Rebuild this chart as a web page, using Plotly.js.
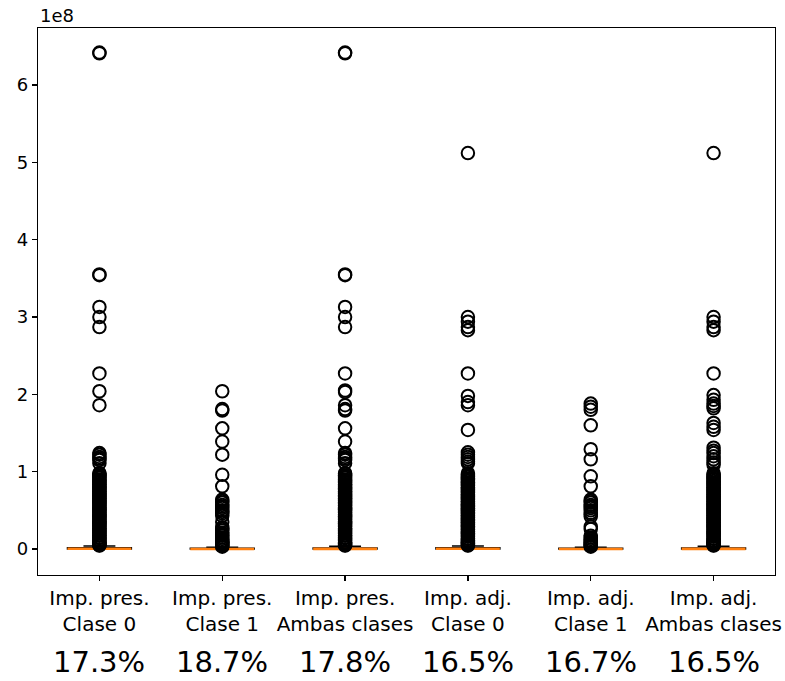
<!DOCTYPE html>
<html>
<head>
<meta charset="utf-8">
<script src="https://cdn.plot.ly/plotly-3.0.1.min.js"></script>
<style>
  html, body { margin: 0; padding: 0; background: #fff; }
  #chart { width: 785px; height: 681px; }
</style>
</head>
<body>
<div id="chart"></div>
<script>
// ---- Data (values in units of 1e8) ----
const categories = [
  "Imp. pres.<br>Clase 0",
  "Imp. pres.<br>Clase 1",
  "Imp. pres.<br>Ambas clases",
  "Imp. adj.<br>Clase 0",
  "Imp. adj.<br>Clase 1",
  "Imp. adj.<br>Ambas clases"
];
const percentages = ["17.3%", "18.7%", "17.8%", "16.5%", "16.7%", "16.5%"];

const q1Values     = [0, 0, 0, 0, 0, 0];
const medianValues = [0.003, 0.001, 0.002, 0.003, 0.001, 0.002];
const q3Values     = [0.015, 0.010, 0.013, 0.015, 0.010, 0.013];
const lowerFences  = [0, 0, 0, 0, 0, 0];
const upperFences  = [0.040, 0.022, 0.035, 0.040, 0.022, 0.035];

const outliersPresClase0 = [6.42, 6.41, 3.55, 3.54, 3.13, 3.00, 2.87, 2.27, 2.04, 1.86,
  1.24, 1.22, 1.19, 1.17, 1.15, 1.11, 0.98, 0.97, 0.95, 0.94, 0.92, 0.90, 0.89, 0.87,
  0.86, 0.84, 0.83, 0.81, 0.80, 0.78, 0.77, 0.75, 0.74, 0.72, 0.71, 0.69, 0.68, 0.66,
  0.65, 0.63, 0.62, 0.60, 0.59, 0.57, 0.56, 0.54, 0.53, 0.51, 0.50, 0.48, 0.47, 0.45,
  0.44, 0.42, 0.41, 0.39, 0.38, 0.36, 0.35, 0.33, 0.32, 0.30, 0.29, 0.27, 0.26, 0.24,
  0.23, 0.21, 0.20, 0.18, 0.17, 0.15, 0.14, 0.12, 0.11, 0.09, 0.08, 0.07, 0.06, 0.05, 0.045];
const outliersPresClase1 = [2.04, 1.81, 1.79, 1.56, 1.39, 1.22, 0.96, 0.81, 0.64, 0.62,
  0.60, 0.57, 0.55, 0.53, 0.50, 0.48, 0.46, 0.43, 0.35, 0.28, 0.26, 0.24, 0.21, 0.19,
  0.17, 0.15, 0.13, 0.11, 0.10, 0.09, 0.08, 0.07, 0.06, 0.05, 0.04, 0.03];
const outliersPresAmbas = [6.42, 6.41, 3.55, 3.54, 3.13, 3.00, 2.87, 2.27, 2.05, 2.03,
  1.86, 1.81, 1.79, 1.56, 1.39, 1.24, 1.22, 1.19, 1.17, 1.15, 1.11, 0.98, 0.97, 0.95,
  0.94, 0.92, 0.90, 0.89, 0.87, 0.86, 0.84, 0.83, 0.81, 0.80, 0.78, 0.77, 0.75, 0.74,
  0.72, 0.71, 0.69, 0.68, 0.66, 0.65, 0.63, 0.62, 0.60, 0.59, 0.57, 0.56, 0.54, 0.53,
  0.51, 0.50, 0.48, 0.47, 0.45, 0.44, 0.42, 0.41, 0.39, 0.38, 0.36, 0.35, 0.33, 0.32,
  0.30, 0.29, 0.27, 0.26, 0.24, 0.23, 0.21, 0.20, 0.18, 0.17, 0.15, 0.14, 0.12, 0.11,
  0.09, 0.08, 0.07, 0.06, 0.05, 0.045];
const outliersAdjClase0 = [5.12, 3.00, 2.94, 2.87, 2.83, 2.27, 1.98, 1.90, 1.86, 1.54,
  1.25, 1.22, 1.19, 1.16, 1.13, 1.11, 0.98, 0.96, 0.94, 0.93, 0.91, 0.90, 0.88, 0.86,
  0.85, 0.83, 0.82, 0.80, 0.79, 0.77, 0.76, 0.74, 0.73, 0.71, 0.70, 0.68, 0.67, 0.65,
  0.64, 0.62, 0.61, 0.59, 0.58, 0.56, 0.55, 0.53, 0.52, 0.50, 0.49, 0.47, 0.46, 0.44,
  0.43, 0.41, 0.40, 0.38, 0.37, 0.35, 0.34, 0.32, 0.31, 0.29, 0.28, 0.26, 0.25, 0.23,
  0.22, 0.20, 0.19, 0.17, 0.16, 0.14, 0.13, 0.11, 0.10, 0.09, 0.08, 0.07, 0.06, 0.05, 0.045];
const outliersAdjClase1 = [1.88, 1.84, 1.80, 1.60, 1.29, 1.16, 0.94, 0.81, 0.64, 0.62,
  0.60, 0.57, 0.55, 0.53, 0.50, 0.47, 0.45, 0.42, 0.29, 0.26, 0.17, 0.15, 0.13, 0.11,
  0.10, 0.08, 0.07, 0.06, 0.05, 0.04, 0.03];
const outliersAdjAmbas = [5.12, 3.00, 2.94, 2.87, 2.83, 2.27, 1.99, 1.93, 1.88, 1.85,
  1.82, 1.63, 1.58, 1.54, 1.31, 1.27, 1.24, 1.20, 1.16, 1.12, 1.09, 0.98, 0.96, 0.94,
  0.93, 0.91, 0.90, 0.88, 0.86, 0.85, 0.83, 0.82, 0.80, 0.79, 0.77, 0.76, 0.74, 0.73,
  0.71, 0.70, 0.68, 0.67, 0.65, 0.64, 0.62, 0.61, 0.59, 0.58, 0.56, 0.55, 0.53, 0.52,
  0.50, 0.49, 0.47, 0.46, 0.44, 0.43, 0.41, 0.40, 0.38, 0.37, 0.35, 0.34, 0.32, 0.31,
  0.29, 0.28, 0.26, 0.25, 0.23, 0.22, 0.20, 0.19, 0.17, 0.16, 0.14, 0.13, 0.11, 0.10,
  0.09, 0.08, 0.07, 0.06, 0.05, 0.045];

const yTickValues = [0, 1, 2, 3, 4, 5, 6];
const yTickLabels = ["0", "1", "2", "3", "4", "5", "6"];

// ---- Build traces ----
const outlierSets = [outliersPresClase0, outliersPresClase1, outliersPresAmbas,
                     outliersAdjClase0, outliersAdjClase1, outliersAdjAmbas];

const boxTrace = {
  type: "box",
  x: categories,
  q1: q1Values,
  median: medianValues,
  q3: q3Values,
  lowerfence: lowerFences,
  upperfence: upperFences,
  width: 0.52,
  line: { color: "#000", width: 1.5 },
  fillcolor: "rgba(255,255,255,0)",
  whiskerwidth: 0.5,
  boxpoints: false,
  showlegend: false,
  hoverinfo: "skip"
};

const outX = [], outY = [];
outlierSets.forEach((arr, i) => arr.forEach(v => { outX.push(categories[i]); outY.push(v); }));

const outlierTrace = {
  type: "scatter",
  mode: "markers",
  x: outX,
  y: outY,
  marker: { symbol: "circle-open", size: 12.5, color: "#000", line: { width: 2, color: "#000" } },
  showlegend: false,
  hoverinfo: "y"
};

const medianTrace = {
  type: "box",
  x: categories,
  q1: medianValues,
  median: medianValues,
  q3: medianValues,
  lowerfence: medianValues,
  upperfence: medianValues,
  width: 0.52,
  line: { color: "#ff7f0e", width: 2.6 },
  fillcolor: "rgba(255,255,255,0)",
  whiskerwidth: 0.5,
  boxpoints: false,
  showlegend: false,
  hoverinfo: "skip"
};

const annotations = percentages.map((p, i) => ({
  x: categories[i], xref: "x",
  y: -0.159, yref: "paper",
  text: p, showarrow: false,
  xanchor: "center", yanchor: "middle",
  font: { family: "DejaVu Sans", size: 29, color: "#000" }
}));
annotations.push({
  x: 0, xref: "paper", y: 1, yref: "paper",
  text: "1e8", showarrow: false,
  xanchor: "left", yanchor: "bottom",
  font: { family: "DejaVu Sans", size: 18, color: "#000" }
});

const layout = {
  width: 785, height: 681,
  margin: { l: 38, r: 10, t: 28, b: 106 },
  paper_bgcolor: "#fff",
  plot_bgcolor: "#fff",
  boxmode: "overlay",
  showlegend: false,
  font: { family: "DejaVu Sans", color: "#000" },
  xaxis: {
    type: "category",
    categoryarray: categories,
    range: [-0.5, 5.5],
    autorange: false,
    tickangle: 0,
    automargin: false,
    showline: true, linecolor: "#000", linewidth: 1.2, mirror: true,
    ticks: "outside", ticklen: 5, tickwidth: 1.2, tickcolor: "#000",
    showgrid: false, zeroline: false,
    tickfont: { family: "DejaVu Sans", size: 20, color: "#000" }
  },
  yaxis: {
    range: [-0.336, 6.737],
    autorange: false,
    automargin: false,
    tickvals: yTickValues, ticktext: yTickLabels,
    showline: true, linecolor: "#000", linewidth: 1.2, mirror: true,
    ticks: "outside", ticklen: 5, tickwidth: 1.2, tickcolor: "#000",
    showgrid: false, zeroline: false,
    tickfont: { family: "DejaVu Sans", size: 18, color: "#000" }
  },
  annotations: annotations
};

Plotly.newPlot("chart", [boxTrace, outlierTrace, medianTrace], layout, { displayModeBar: false, staticPlot: true });
</script>
</body>
</html>
